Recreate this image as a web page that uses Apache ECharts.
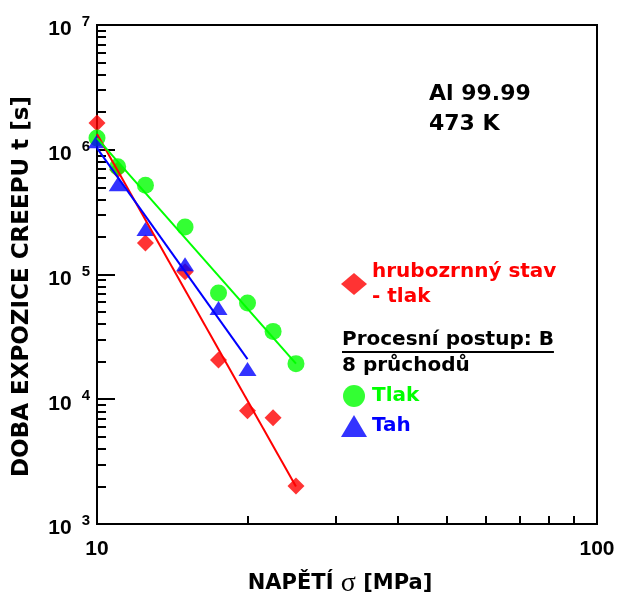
<!DOCTYPE html>
<html>
<head>
<meta charset="utf-8">
<script src="https://cdn.jsdelivr.net/npm/echarts@6.0.0/dist/echarts.min.js"></script>
<style>
  html, body { margin: 0; padding: 0; background: #fff; }
  #chart { width: 618px; height: 596px; }
</style>
</head>
<body>
<div id="chart"></div>
<script>
// napětí [MPa]
const stress = [10, 11, 12.5, 15, 17.5, 20, 22.5, 25]
const stressTah = [10, 11, 12.5, 15, 17.5, 20]

// doba expozice creepu [s]
const timeCoarse = [1.64e6, 6.9e5, 1.79e5, 1.05e5, 2.06e4, 8.1e3, 7.1e3, 2.02e3]
const timeTlak = [1.24e6, 7.3e5, 5.2e5, 2.4e5, 7.1e4, 5.9e4, 3.5e4, 1.93e4]
const timeTah = [1.17e6, 5.3e5, 2.32e5, 1.21e5, 5.4e4, 1.75e4]

// proložené přímky - koncové body
const fitCoarse = [[10, 1.34e6], [25, 2.0e3]]
const fitTlak = [[10, 1.24e6], [25, 1.93e4]]
const fitTah = [[10, 1.03e6], [20, 2.1e4]]

// osy
const xLabelValues = [10, 100]
const xTickValues = [20, 30, 40, 50, 60, 70, 80, 90]
const yMajorTicks = [1e3, 1e4, 1e5, 1e6, 1e7]
const yMinorTicks = [
  2e3, 3e3, 4e3, 5e3, 6e3, 7e3, 8e3, 9e3,
  2e4, 3e4, 4e4, 5e4, 6e4, 7e4, 8e4, 9e4,
  2e5, 3e5, 4e5, 5e5, 6e5, 7e5, 8e5, 9e5,
  2e6, 3e6, 4e6, 5e6, 6e6, 7e6, 8e6, 9e6
]

const nameCoarse = 'hrubozrnný stav\n- tlak'
const nameTlak = 'Tlak'
const nameTah = 'Tah'

const RED = '#ff0000'
const GREEN = '#00ff00'
const BLUE = '#0000ff'
const SANS = '"DejaVu Sans"'
const TICKFONT = '"Liberation Sans", Arial'

const zip = (xs, ys) => xs.map((x, i) => [x, ys[i]])

// šířka podtrženého textu
const measure = (text, font) => {
  const ctx = document.createElement('canvas').getContext('2d')
  ctx.font = font
  return ctx.measureText(text).width
}

const chart = echarts.init(document.getElementById('chart'), null, { renderer: 'canvas' })

const procText = 'Procesní postup: B'
const procFont = 'bold 20px ' + SANS
const procWidth = measure(procText, procFont)

const axisLineStyle = { color: '#000', width: 2 }

const option = {
  animation: false,
  backgroundColor: '#fff',
  title: {
    text: 'Al 99.99\n473 K',
    left: 429,
    top: 79,
    padding: 0,
    textStyle: {
      fontFamily: SANS,
      fontWeight: 'bold',
      fontSize: 22,
      lineHeight: 30,
      color: '#000'
    }
  },
  grid: {
    left: 97,
    top: 25,
    width: 500,
    height: 499,
    outerBoundsMode: 'none',
    show: true,
    borderColor: '#000',
    borderWidth: 2,
    backgroundColor: 'transparent'
  },
  legend: [
    {
      data: [{ name: nameCoarse, textStyle: { color: RED } }],
      left: 341,
      top: 259,
      orient: 'vertical',
      padding: 0,
      itemWidth: 26,
      itemHeight: 22,
      selectedMode: false,
      textStyle: { fontFamily: SANS, fontWeight: 'bold', fontSize: 20, lineHeight: 25 }
    },
    {
      data: [
        { name: nameTlak, textStyle: { color: GREEN } },
        { name: nameTah, textStyle: { color: BLUE } }
      ],
      left: 341,
      top: 385,
      orient: 'vertical',
      padding: 0,
      itemGap: 8,
      itemWidth: 26,
      itemHeight: 22,
      selectedMode: false,
      textStyle: { fontFamily: SANS, fontWeight: 'bold', fontSize: 20 }
    }
  ],
  graphic: [
    {
      type: 'text',
      x: 342,
      y: 340,
      style: { text: procText, font: procFont, fill: '#000', verticalAlign: 'middle' }
    },
    {
      type: 'line',
      shape: { x1: 342, y1: 352, x2: 342 + procWidth, y2: 352 },
      style: { stroke: '#000', lineWidth: 2 }
    },
    {
      type: 'text',
      x: 342,
      y: 366,
      style: { text: '8 průchodů', font: procFont, fill: '#000', verticalAlign: 'middle' }
    }
  ],
  xAxis: {
    type: 'log',
    logBase: 10,
    min: 10,
    max: 100,
    name: '{a|NAPĚTÍ }{s|σ}{a| [MPa]}',
    nameLocation: 'middle',
    nameGap: 46,
    nameTextStyle: {
      padding: [0, 14, 0, 0],
      rich: {
        a: { fontFamily: SANS, fontWeight: 'bold', fontSize: 21, color: '#000' },
        s: { fontFamily: '"Liberation Serif", serif', fontSize: 28, color: '#000' }
      }
    },
    axisLine: { lineStyle: axisLineStyle },
    axisTick: {
      show: true,
      inside: true,
      length: 8,
      customValues: xTickValues,
      lineStyle: axisLineStyle
    },
    axisLabel: {
      customValues: xLabelValues,
      margin: 15,
      fontFamily: TICKFONT,
      fontWeight: 'bold',
      fontSize: 21,
      color: '#000',
      formatter: (v) => String(Math.round(v))
    },
    splitLine: { show: false },
    minorTick: { show: false }
  },
  yAxis: [
    {
      // vedlejší značky 2..9 v každé dekádě
      type: 'log',
      logBase: 10,
      min: 1e3,
      max: 1e7,
      position: 'left',
      axisLine: { show: false },
      axisTick: {
        show: true,
        inside: true,
        length: 9,
        customValues: yMinorTicks,
        lineStyle: axisLineStyle
      },
      axisLabel: { show: false },
      splitLine: { show: false }
    },
    {
      type: 'log',
      logBase: 10,
      min: 1e3,
      max: 1e7,
      position: 'left',
      name: 'DOBA EXPOZICE CREEPU t [s]',
      nameLocation: 'middle',
      nameGap: 63,
      nameTextStyle: {
        fontFamily: SANS,
        fontWeight: 'bold',
        fontSize: 23,
        color: '#000',
        padding: [0, 24, 0, 0]
      },
      axisLine: { lineStyle: axisLineStyle },
      axisTick: {
        show: true,
        inside: true,
        length: 18,
        customValues: yMajorTicks,
        lineStyle: axisLineStyle
      },
      axisLabel: {
        margin: 7,
        padding: [9, 0, 0, 0],
        formatter: (v) => '{b|10}{e|' + Math.round(Math.log10(v)) + '}',
        rich: {
          b: { fontFamily: TICKFONT, fontWeight: 'bold', fontSize: 21, color: '#000', lineHeight: 30 },
          e: {
            fontFamily: TICKFONT, fontWeight: 'bold', fontSize: 15, color: '#000',
            verticalAlign: 'top', lineHeight: 16, padding: [0, 0, 0, 10]
          }
        }
      },
      splitLine: { show: false }
    }
  ],
  series: [
    {
      name: nameCoarse,
      type: 'scatter',
      yAxisIndex: 1,
      symbol: 'diamond',
      symbolSize: 17,
      itemStyle: { color: RED },
      data: zip(stress, timeCoarse),
      z: 3
    },
    {
      name: nameTlak,
      type: 'scatter',
      yAxisIndex: 1,
      symbol: 'circle',
      symbolSize: 17,
      itemStyle: { color: GREEN },
      data: zip(stress, timeTlak),
      z: 3
    },
    {
      name: nameTah,
      type: 'scatter',
      yAxisIndex: 1,
      symbol: 'triangle',
      symbolSize: [18, 14],
      itemStyle: { color: BLUE },
      data: zip(stressTah, timeTah),
      z: 3
    },
    {
      type: 'line',
      yAxisIndex: 1,
      data: fitCoarse,
      showSymbol: false,
      lineStyle: { color: RED, width: 2 },
      z: 4
    },
    {
      type: 'line',
      yAxisIndex: 1,
      data: fitTlak,
      showSymbol: false,
      lineStyle: { color: GREEN, width: 2 },
      z: 4
    },
    {
      type: 'line',
      yAxisIndex: 1,
      data: fitTah,
      showSymbol: false,
      lineStyle: { color: BLUE, width: 2 },
      z: 4
    }
  ]
}

chart.setOption(option)
</script>
</body>
</html>
